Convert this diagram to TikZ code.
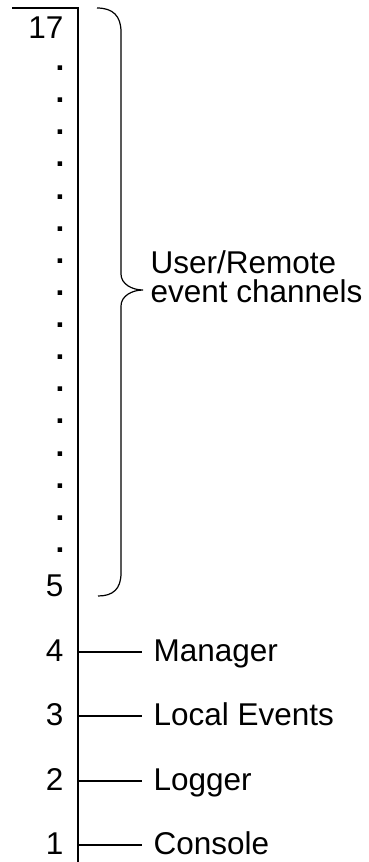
\documentclass[tikz,border=0pt]{standalone}
\usepackage{fontspec}
\setmainfont{Liberation Sans}
\begin{document}
\begin{tikzpicture}[x=1pt,y=-1pt,line width=1.2pt,
  font=\fontsize{31.5}{29}\selectfont,
  num/.style={anchor=base east,inner sep=0pt},
  lab/.style={anchor=base west,inner sep=0pt}]
\useasboundingbox (0,0) rectangle (368,862);
%kanali
\coordinate (axtop) at (78,8);
\coordinate (axbot) at (78,862);
\draw (12,8) -- (axtop) -- (axbot);

\node[num] (n17) at (64,38) {17};
\foreach \k in {0,...,15}
  \node[num] (d\k) at (65,{70.5+32.13*\k}) {\bfseries .};
\node[num] (n5) at (64,596) {5};

%zavita oklepaja
\draw (97,8) .. controls (113,8) and (121,16) .. (121,32) -- (121,274)
  .. controls (121,284) and (132,290) .. (143,290)
  .. controls (132,290) and (121,296) .. (121,306) -- (121,573)
  .. controls (121,589) and (113,596) .. (98,596);
\node[lab,align=left] (user) at (150,302) {User/Remote\\event channels};

\foreach \n/\t/\y in {4/Manager/652,3/Local Events/716,2/Logger/781,1/Console/845}{
  \coordinate (c\n) at (78,\y);
  \node[num] (n\n) at (64,\y+9) {\n};
  \node[lab] (l\n) at (153,\y+9) {\t};
  \draw (c\n) -- ([xshift=-11pt]c\n -| l\n.west);
}
\end{tikzpicture}
\end{document}
